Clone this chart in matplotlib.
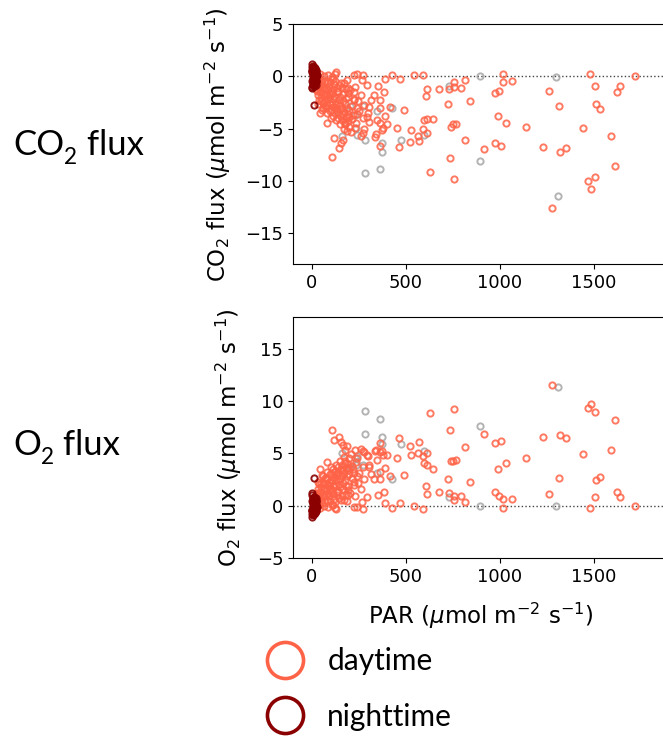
import numpy as np
import matplotlib.pyplot as plt
from matplotlib.lines import Line2D

# flux vs light, one point per half-hour record
# PAR, CO2 flux, O2 flux (umol m-2 s-1)
day_par = [1720, 1480, 1507, 1640, 1626, 1512, 1534, 1441, 1264, 1317, 1353, 1321, 1232, 1280,
           1590, 1613, 1470, 1505, 1486, 1140, 1034, 991, 1019, 1016, 1066, 975, 998, 972, 1007,
           917, 842, 816, 794, 754, 757, 732, 676, 615, 608, 722, 768, 739, 750, 814, 736, 757,
           626, 647, 612, 599, 589, 615, 564, 569, 523, 527, 452, 465, 488, 470, 429, 388, 541,
           590, 418, 385, 388, 402, 371, 381, 364, 349, 351, 296, 266, 271, 239, 225, 332, 316,
           303, 300, 293, 305, 278, 271, 262, 335, 340, 364, 360, 364, 222, 222, 239, 229, 186,
           176, 168, 154, 144, 119, 106, 80, 41, 128,
           20, 25, 30, 35, 40, 45, 50, 55, 60, 65, 70, 75, 80, 85, 90, 95, 100, 105, 110, 115,
           120, 125, 130, 135, 140, 145, 150, 155, 160, 165, 170, 175, 180, 185, 190, 195, 200,
           205, 210, 215, 220, 230, 235, 245, 250, 260, 270, 280,
           30, 40, 50, 60, 70, 80, 90, 100, 110, 120, 130, 140, 150, 160, 170, 180, 190, 200,
           45, 65, 85, 105, 125, 35, 55, 75, 95, 115, 135, 155, 175, 195, 215, 225, 240,
           15, 18, 22, 28, 33, 38, 42, 48, 52, 58, 62, 68, 72, 78, 82, 88, 92, 98, 102, 108,
           112, 118, 122, 128, 132, 138, 142, 148, 152, 158, 162, 168, 172, 178, 182, 188, 192,
           198, 12, 16]
day_co2 = [0.0, 0.2, -0.9, -0.9, -1.5, -2.6, -3.1, -4.9, -1.4, -2.8, -6.9, -7.2, -6.8, -12.6,
           -5.7, -8.6, -10.0, -9.6, -10.8, -4.8, -4.5, -3.8, 0.26, -0.5, -0.4, -1.6, -1.35, -6.4,
           -6.7, -7.0, -2.4, -0.3, -1.1, -1.0, -0.5, -1.2, -1.25, -1.25, -1.9, -2.6, -4.6, -4.8,
           -4.6, -6.1, -7.8, -9.8, -9.2, -4.1, -4.1, -4.2, -5.0, -5.4, -5.7, -6.2, -6.3, -5.1,
           -4.9, -6.8, -3.2, -0.2, 0.1, -0.2, 0.1, 0.1, -2.9, -1.5, -3.8, -4.6, -5.1, -4.9, -4.5,
           -4.2, -0.9, -0.8, -0.3, 0.1, 0.26, 0.1, -1.8, -2.3, -2.9, -3.5, -3.9, -4.4, -5.0, -5.4,
           -5.75, -5.8, -5.5, -6.7, -3.0, -2.3, -1.5, -2.3, -3.6, -4.9, -5.2, -4.6, -6.1, -6.4,
           -6.9, -5.9, -7.7, -4.5, -3.5, 0.4,
           0.1, -0.3, -0.6, -1.0, -0.2, -1.5, -2.0, -0.8, -2.5, -1.2, -0.4, -3.0, -1.8, -2.2,
           -0.9, -3.3, -1.4, -2.6, -0.2, -3.8, -1.9, -2.9, -4.2, -1.1, -3.5, -2.3, -4.6, -0.6,
           -3.0, -1.7, -5.0, -2.6, -3.9, -0.3, -2.0, -4.3, -3.2, -1.3, -5.3, -2.8, -3.7, -1.0,
           -4.5, -2.4, -3.3, -1.8, -4.0, -2.7,
           -1.4, -2.3, -0.5, -1.6, -2.8, -3.5, -2.0, -4.0, -2.9, -0.7, -2.1, -1.5, -2.7, -4.2,
           -3.4, -1.2, -3.6, -4.8,
           0.2, 0.0, 0.1, -0.1, 0.2, -2.6, -3.2, -1.1, -1.7, -1.2, -3.1, -3.8, -4.6, -1.6, -4.1,
           -2.2, -3.0,
           -0.2, -0.7, -1.2, -0.4, -1.8, -0.9, -1.3, -2.4, -0.3, -1.0, -3.0, -1.9, -2.3, -0.6,
           -2.7, -1.3, -2.5, -0.5, -3.2, -1.6, -2.2, -3.4, -0.4, -2.6, -1.4, -4.0, -0.8, -3.1,
           -2.0, -1.0, -3.6, -2.4, -0.6, -4.4, -2.1, -3.0, -1.1, -3.9, -0.1, -0.5]
day_o2 = [0.0, -0.2, 0.8, 0.86, 1.25, 2.4, 2.7, 4.9, 1.1, 2.6, 6.45, 6.7, 6.55, 11.5,
          5.3, 8.2, 9.3, 8.9, 9.7, 4.5, 4.1, 3.45, -0.2, 0.65, 0.6, 1.25, 0.9, 6.0,
          6.2, 6.8, 2.3, 0.3, 0.95, 0.9, 0.5, 1.2, 1.3, 1.1, 1.9, 2.5, 4.4, 4.3,
          4.3, 5.6, 7.2, 9.2, 8.8, 3.5, 3.9, 4.1, 4.7, 5.0, 5.0, 6.1, 5.7, 4.8,
          4.5, 6.45, 2.9, 0.2, -0.2, 0.2, 0.0, -0.3, 2.8, 1.3, 3.6, 4.8, 5.2, 4.8, 5.1,
          4.4, 1.0, 0.85, 0.3, -0.35, -0.15, -0.15, 2.5, 3.0, 3.9, 4.7, 4.8, 3.7, 5.1, 5.2,
          5.4, 5.2, 5.3, 6.0, 2.5, 3.2, 2.3, 3.1, 4.5, 5.3, 5.65, 5.3, 5.8, 6.1,
          6.6, 6.3, 7.25, 4.2, 3.5, -0.3,
          -0.3, 0.2, 0.5, 0.9, 0.1, 1.3, 1.8, 0.7, 2.2, 1.0, 0.3, 2.6, 1.6, 2.0,
          0.9, 3.0, 1.3, 2.4, 0.1, 3.5, 1.8, 2.7, 3.9, 1.0, 3.2, 2.1, 4.3, 0.5,
          2.8, 1.6, 4.6, 2.4, 3.6, 0.4, 1.9, 4.0, 3.0, 1.2, 4.9, 2.6, 3.5, 0.9,
          4.2, 2.2, 3.1, 1.6, 3.7, 2.5,
          1.2, 2.1, 0.4, 1.5, 2.6, 3.2, 1.9, 3.7, 2.7, 0.6, 2.0, 1.4, 2.5, 3.9,
          3.1, 1.1, 3.4, 4.5,
          -0.2, 0.0, -0.1, 0.1, -0.2, 2.3, 2.9, 1.0, 1.6, 1.1, 2.9, 3.5, 4.3, 1.5, 3.8,
          2.0, 2.8,
          0.1, 0.6, 1.1, 0.3, 1.6, 0.8, 1.2, 2.2, 0.2, 0.9, 2.8, 1.7, 2.1, 0.5,
          2.5, 1.2, 2.3, 0.4, 3.0, 1.5, 2.0, 3.2, 0.3, 2.4, 1.3, 3.7, 0.7, 2.9,
          1.8, 0.9, 3.4, 2.2, 0.5, 4.1, 1.9, 2.8, 1.0, 3.6, 0.0, 0.4]

night_par = [0, 1, 2, 3, 4, 5, 6, 7, 8, 9, 10, 11, 12, 13, 14, 15, 16, 17, 18, 19, 20, 21,
             22, 23, 24, 25, 2, 5, 8, 12, 15, 18, 3, 6, 10, 14, 20, 9,
             1, 3, 5, 7, 9, 11, 13, 15, 17, 19, 21, 23, 4, 8, 12, 16, 20, 24]
night_co2 = [1.2, 0.9, -1.1, 0.6, 0.3, -0.8, 0.0, 0.8, -0.5, 0.2, 0.5, -0.3, 0.1, 0.7, -0.9,
             0.4, -0.2, 0.6, -0.6, 0.3, 0.0, -0.4, 0.2, 0.5, -0.1, 0.1, 0.4, -0.2, 0.9, -0.7,
             0.0, 0.2, -1.0, 0.6, -0.3, 0.4, -0.5, -2.7,
             0.5, -0.4, 1.0, -0.7, 0.7, -0.9, 0.3, -0.6, -0.1, 0.8, 0.6, -0.3, -0.2, 0.1, 0.9,
             -0.4, 0.3, -0.8]
night_o2 = [-1.1, -0.8, 1.0, -0.5, -0.3, 0.7, 0.0, -0.7, 0.5, -0.2, -0.4, 0.3, -0.1, -0.6, 0.8,
            -0.4, 0.2, -0.5, 0.6, -0.3, 0.0, 0.4, -0.2, -0.5, 0.1, -0.1, -0.4, 0.2, -0.8, 0.7,
            0.0, -0.2, 1.2, -0.6, 0.3, -0.4, 0.5, 2.6,
            -0.4, 0.4, -0.9, 0.6, -0.6, 0.8, -0.3, 0.5, 0.1, -0.7, -0.5, 0.3, 0.2, -0.1, -0.8,
            0.4, -0.2, 0.7]

# records flagged out of the day/night split
flag_par = [895, 1300, 1307, 892, 732, 598, 475, 426, 364, 285, 371, 371, 285, 346, 239, 236,
            204, 163, 135, 271, 230]
flag_co2 = [0.06, -0.1, -11.5, -8.1, -0.9, -5.6, -6.1, -3.0, -8.9, -9.3, -7.2, -6.4, -6.1, -3.3,
            -5.6, -4.9, -2.8, -5.75, -3.3, -2.8, -3.7]
flag_o2 = [0.0, 0.0, 11.3, 7.6, 0.8, 5.2, 5.85, 2.5, 8.3, 9.0, 6.6, 5.85, 6.8, 3.1, 4.7, 3.9,
           3.7, 5.0, 3.1, 3.9, 4.5]

day_col = '#ff6347'
night_col = '#8b0000'
flag_col = '#9a9a9a'
unit = r'($\mu$mol m$^{-2}$ s$^{-1}$)'

fig = plt.figure(figsize=(6.63, 7.36), dpi=100)
ax1 = fig.add_axes([0.442, 0.641, 0.567, 0.326])
ax2 = fig.add_axes([0.442, 0.242, 0.567, 0.327])

def scatter_flux(ax, col_flag, col_day, col_night):
    kw = dict(ls='none', marker='o', ms=4.5, mfc='none', mew=1.4)
    ax.plot(flag_par, col_flag, color=flag_col, alpha=0.75, **kw)
    ax.plot(day_par, col_day, color=day_col, alpha=0.85, **kw)
    ax.plot(night_par, col_night, color=night_col, alpha=0.9, **kw)
    ax.axhline(0, color='#444444', ls=':', lw=1, zorder=0)
    ax.set_xlim(-100, 1900)
    ax.set_xticks([0, 500, 1000, 1500])
    ax.tick_params(labelsize=13)

scatter_flux(ax1, flag_co2, day_co2, night_co2)
ax1.set_ylim(-18, 5)
ax1.set_yticks([5, 0, -5, -10, -15])
ax1.set_ylabel('CO$_2$ flux ' + unit, fontsize=16.5, labelpad=9)

scatter_flux(ax2, flag_o2, day_o2, night_o2)
ax2.set_ylim(-5, 18)
ax2.set_yticks([15, 10, 5, 0, -5])
ax2.set_ylabel('O$_2$ flux ' + unit, fontsize=16.5, labelpad=9)
ax2.set_xlabel('PAR ' + unit, fontsize=16.5, labelpad=11)

# side labels with a hand-placed subscript
renderer = fig.canvas.get_renderer()
def side_label(x, y, head, sub, tail, size=25):
    t = fig.text(x, y, head, fontsize=size, family='Lato', va='baseline')
    bb = t.get_window_extent(renderer)
    xs = bb.x1 / fig.bbox.width
    s = fig.text(xs, y - 0.012, sub, fontsize=size * 0.65, family='Lato', va='baseline')
    bb = s.get_window_extent(renderer)
    fig.text(bb.x1 / fig.bbox.width, y, tail, fontsize=size, family='Lato', va='baseline')

side_label(0.02, 1 - 155 / 736, 'CO', '2', ' flux')
side_label(0.02, 1 - 455 / 736, 'O', '2', ' flux')

handles = [Line2D([], [], ls='none', marker='o', ms=26, mfc='none', mew=2.6, color=day_col),
           Line2D([], [], ls='none', marker='o', ms=26, mfc='none', mew=2.6, color=night_col)]
fig.legend(handles, ['daytime', 'nighttime'], loc='upper left', bbox_to_anchor=(0.372, 0.141),
           frameon=False, prop={'family': 'Lato', 'size': 21.5}, labelspacing=0.92,
           handletextpad=0.6, borderpad=0, handlelength=1.6)

fig.savefig('out.png', dpi=100)
